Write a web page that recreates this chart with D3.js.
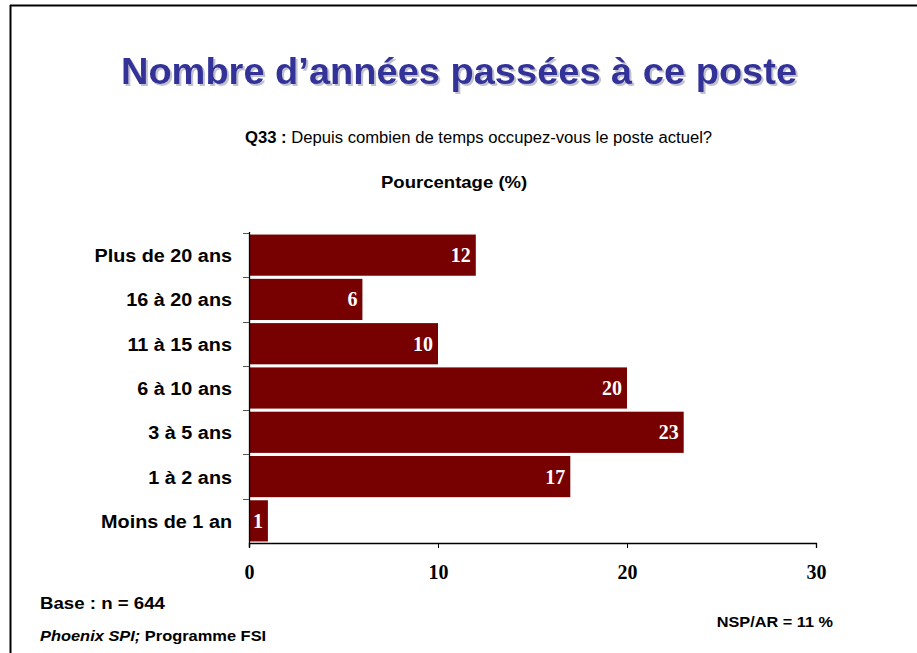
<!DOCTYPE html>
<html>
<head>
<meta charset="utf-8">
<script src="https://cdn.jsdelivr.net/npm/d3@7/dist/d3.min.js"></script>
<style>
  html, body { margin: 0; padding: 0; background: #fff; }
  svg { display: block; }
</style>
</head>
<body>
<svg id="chart" width="917" height="653"></svg>
<script>
// Survey answers: years spent in the current post (%)
const categories = ["Plus de 20 ans", "16 à 20 ans", "11 à 15 ans", "6 à 10 ans", "3 à 5 ans", "1 à 2 ans", "Moins de 1 an"];
const values = [12, 6, 10, 20, 23, 17, 1];
const xTicks = [0, 10, 20, 30];

const svg = d3.select("#chart");
const W = 917, H = 653;
const SANS = "Arial, 'Liberation Sans', sans-serif";
const SERIF = "'Times New Roman', 'Liberation Serif', serif";

// widen a text element's glyphs by factor k (the slide font runs a bit wide)
function widen(sel, k) {
  sel.each(function () {
    const len = this.getComputedTextLength();
    d3.select(this).attr("textLength", len * k).attr("lengthAdjust", "spacingAndGlyphs");
  });
  return sel;
}

// drop shadow for the title
const defs = svg.append("defs");
defs.append("filter").attr("id", "titleShadow")
  .attr("x", "-5%").attr("y", "-20%").attr("width", "110%").attr("height", "140%")
  .append("feDropShadow")
  .attr("dx", 2).attr("dy", 2).attr("stdDeviation", 0.6)
  .attr("flood-color", "#9a9aae").attr("flood-opacity", 0.6);

// slide frame (top and left edges)
svg.append("line").attr("x1", 10).attr("x2", W).attr("y1", 5.5).attr("y2", 5.5)
  .attr("stroke", "#000").attr("stroke-width", 2);
svg.append("line").attr("x1", 10.5).attr("x2", 10.5).attr("y1", 5).attr("y2", H)
  .attr("stroke", "#000").attr("stroke-width", 2);

// title
widen(svg.append("text").attr("x", 459).attr("y", 84).attr("text-anchor", "middle")
  .attr("font-family", SANS).attr("font-weight", "bold")
  .attr("font-size", 36).attr("fill", "#333399")
  .attr("filter", "url(#titleShadow)")
  .text("Nombre d’années passées à ce poste"), 1.056);

// question line
const q = svg.append("text").attr("x", 245).attr("y", 143)
  .attr("font-family", SANS).attr("font-size", 16).attr("fill", "#000");
q.append("tspan").attr("font-weight", "bold").text("Q33 :");
q.append("tspan").text(" Depuis combien de temps occupez-vous le poste actuel?");
widen(q, 1.04);

widen(svg.append("text").attr("x", 381).attr("y", 188)
  .attr("font-family", SANS).attr("font-size", 17)
  .attr("font-weight", "bold").text("Pourcentage (%)"), 1.09);

// plot area
const x0 = 249, x1 = 816, yTop = 233, yBot = 543;
const x = d3.scaleLinear().domain([0, 30]).range([x0, x1]);
const y = d3.scaleBand().domain(categories).range([yTop, yBot]).paddingInner(0.07).paddingOuter(0.035);

const g = svg.append("g");

g.selectAll("rect.bar").data(values).enter().append("rect")
  .attr("class", "bar")
  .attr("x", x(0))
  .attr("y", (d, i) => y(categories[i]))
  .attr("width", d => x(d) - x(0))
  .attr("height", y.bandwidth())
  .attr("fill", "#770000");

g.selectAll("text.val").data(values).enter().append("text")
  .attr("class", "val")
  .attr("x", d => x(d) - 5)
  .attr("y", (d, i) => y(categories[i]) + y.bandwidth() / 2 + 7)
  .attr("text-anchor", "end")
  .attr("font-family", SERIF)
  .attr("font-weight", "bold").attr("font-size", 20).attr("fill", "#fff")
  .text(d => d);

// category axis: boundary ticks to the left
const step = (yBot - yTop) / categories.length;
g.append("line").attr("x1", x0 + 0.5).attr("x2", x0 + 0.5).attr("y1", yTop - 1).attr("y2", yBot + 4)
  .attr("stroke", "#000").attr("stroke-width", 1.3);
d3.range(categories.length).forEach(i => {
  const yy = Math.round(yTop + i * step) + 0.5;
  g.append("line").attr("x1", x0 - 6).attr("x2", x0).attr("y1", yy).attr("y2", yy)
    .attr("stroke", "#555").attr("stroke-width", 1);
});
widen(g.selectAll("text.cat").data(categories).enter().append("text")
  .attr("class", "cat")
  .attr("x", 232)
  .attr("y", d => y(d) + y.bandwidth() / 2 + 7)
  .attr("text-anchor", "end")
  .attr("font-family", SANS)
  .attr("font-weight", "bold").attr("font-size", 18).attr("fill", "#000")
  .text(d => d), 1.1);

// value axis
const xAxis = d3.axisBottom(x).tickValues(xTicks).tickSize(5).tickFormat(d3.format("d"));
const ax = svg.append("g").attr("transform", `translate(0,${yBot})`).call(xAxis);
ax.select(".domain").attr("stroke", "#000").attr("stroke-width", 1.3);
ax.selectAll(".tick line").attr("stroke", "#000");
ax.selectAll(".tick text")
  .attr("y", 22)
  .attr("font-family", SERIF)
  .attr("font-weight", "bold").attr("font-size", 20).attr("fill", "#000");

// footnotes
widen(svg.append("text").attr("x", 40).attr("y", 609)
  .attr("font-family", SANS).attr("font-weight", "bold")
  .attr("font-size", 16.5).text("Base : n = 644"), 1.13);
const src = svg.append("text").attr("x", 40).attr("y", 641)
  .attr("font-family", SANS).attr("font-weight", "bold")
  .attr("font-size", 15);
src.append("tspan").attr("font-style", "italic").text("Phoenix SPI;");
src.append("tspan").text(" Programme FSI");
widen(src, 1.094);
widen(svg.append("text").attr("x", 833).attr("y", 627).attr("text-anchor", "end")
  .attr("font-family", SANS).attr("font-weight", "bold")
  .attr("font-size", 15).text("NSP/AR = 11 %"), 1.085);
</script>
</body>
</html>
